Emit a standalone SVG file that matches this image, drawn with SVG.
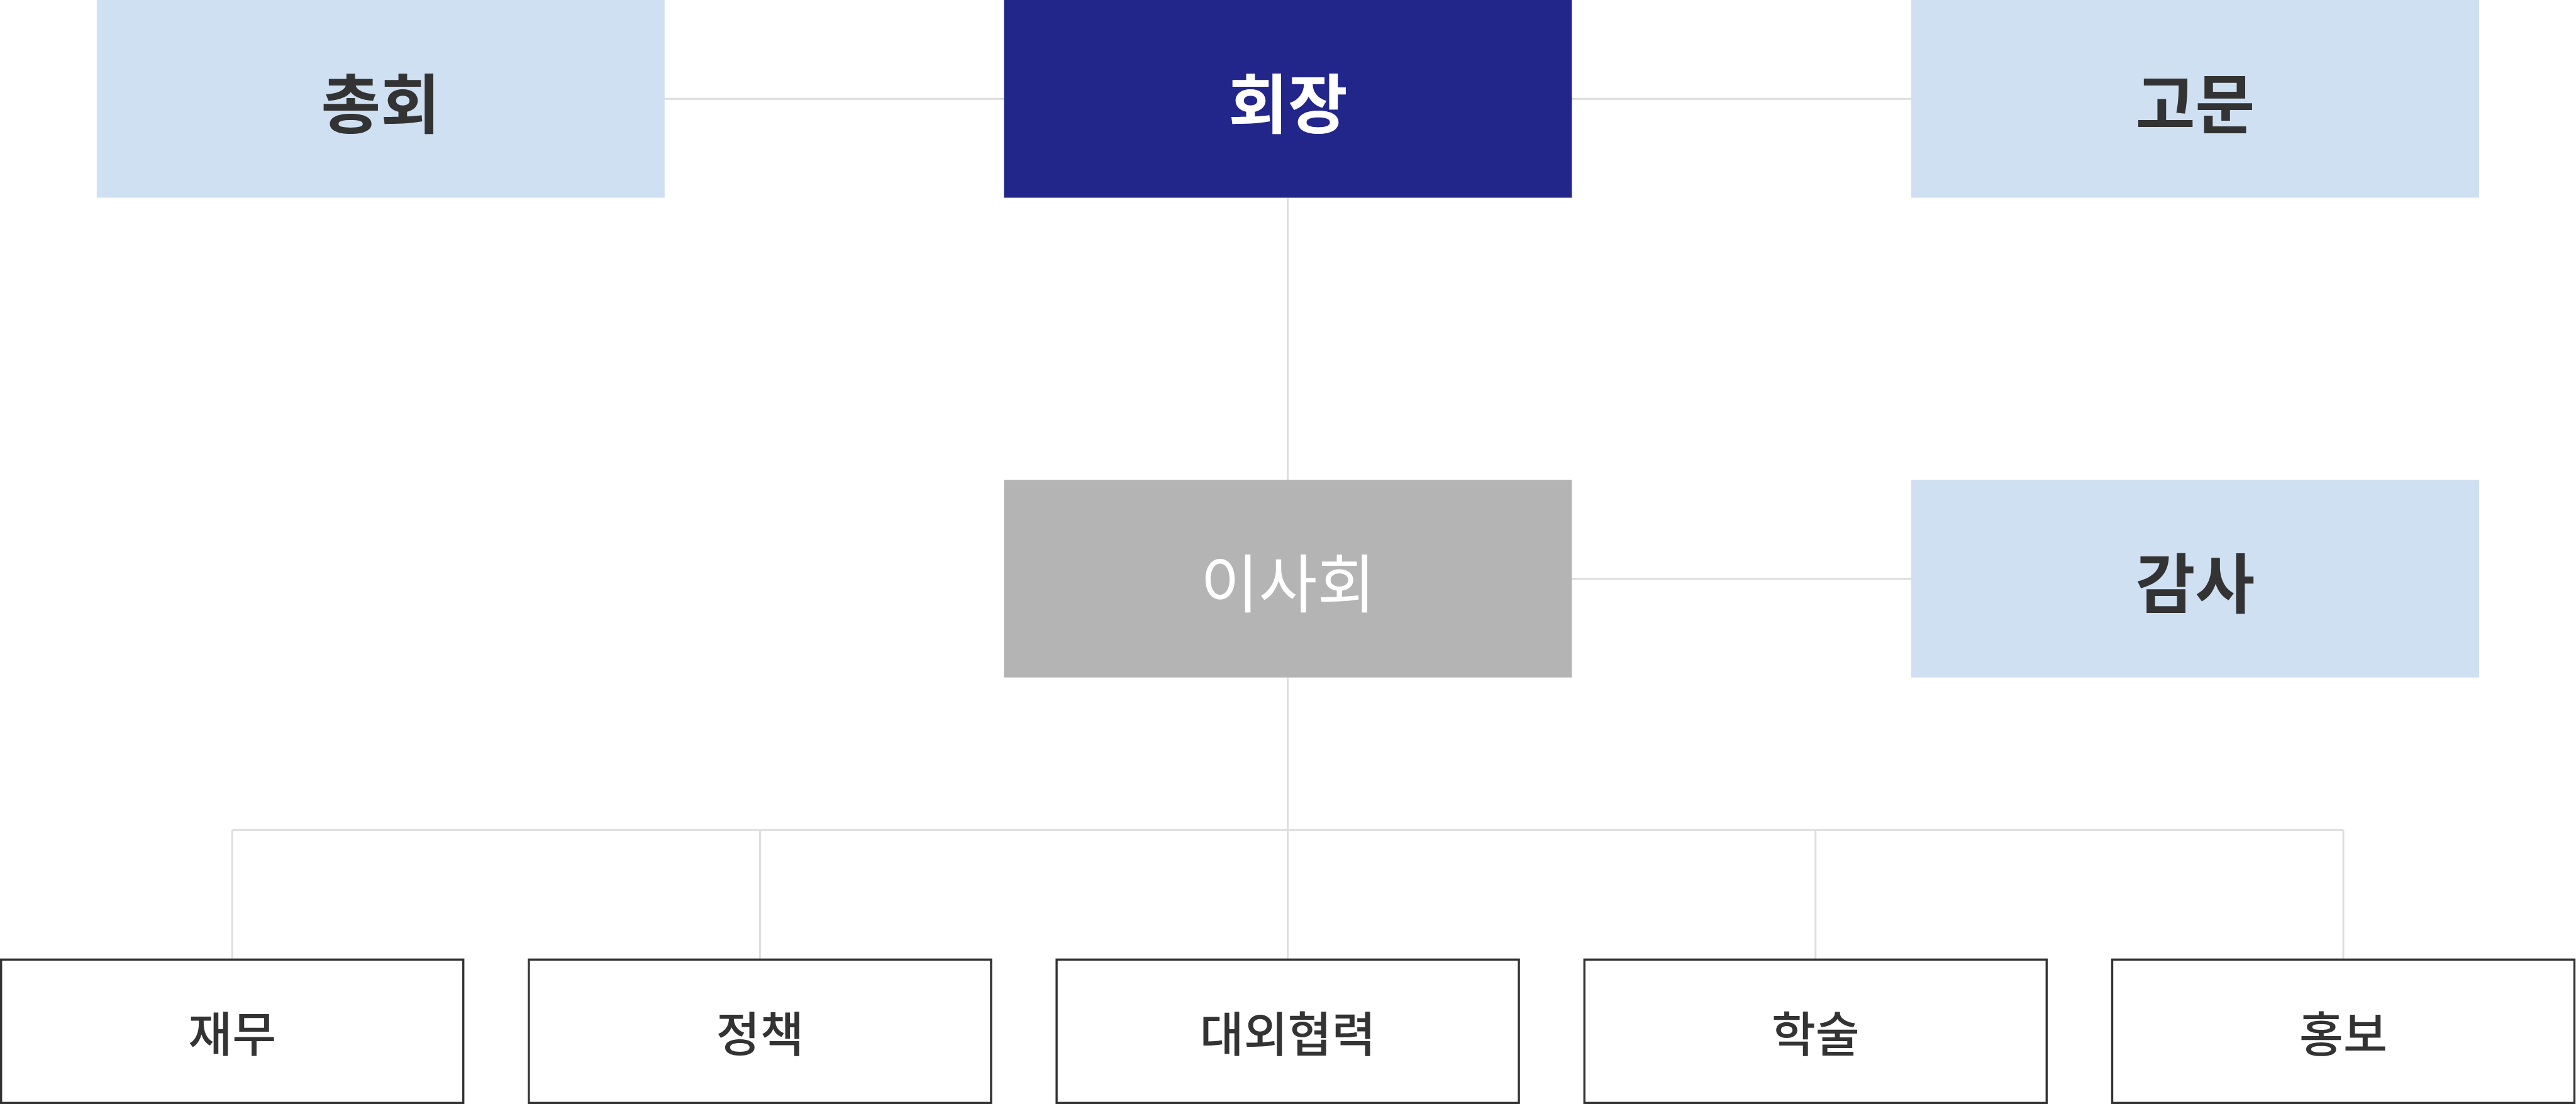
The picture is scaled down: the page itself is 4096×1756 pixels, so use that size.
<svg xmlns="http://www.w3.org/2000/svg" width="4096" height="1756" viewBox="0 0 4096 1756">
<style>
.bg{fill:#ffffff}
.blue{fill:#cfe0f2}
.navy{fill:#22268a}
.gray{fill:#b4b4b4}
.dept{fill:#ffffff;stroke:#333333;stroke-width:3.4}
.conn{stroke:#dddddd;stroke-width:3;fill:none}
.big{font-family:"Noto Sans CJK KR","Noto Sans",sans-serif;font-size:103px;font-weight:700;text-anchor:middle;dominant-baseline:central}
.mid{font-family:"Noto Sans CJK KR","Noto Sans",sans-serif;font-size:101px;font-weight:400;text-anchor:middle;dominant-baseline:central;fill:#ffffff}
.small{font-family:"Noto Sans CJK KR","Noto Sans",sans-serif;font-size:76px;font-weight:500;text-anchor:middle;dominant-baseline:central;fill:#333333}
.dark{fill:#333333}
.white{fill:#ffffff}
</style>
<rect class="bg" x="0" y="0" width="4096" height="1756"/>
<g id="connectors">
<line class="conn" x1="1056" y1="157.2" x2="1597" y2="157.2"/>
<line class="conn" x1="2499" y1="157.2" x2="3040" y2="157.2"/>
<line class="conn" x1="2047.6" y1="314.5" x2="2047.6" y2="763.2"/>
<line class="conn" x1="2499" y1="920.4" x2="3040" y2="920.4"/>
<line class="conn" x1="2047.6" y1="1077.6" x2="2047.6" y2="1525"/>
<line class="conn" x1="369.2" y1="1320.3" x2="3726" y2="1320.3"/>
<line class="conn" x1="369.2" y1="1320.3" x2="369.2" y2="1525"/>
<line class="conn" x1="1208.4" y1="1320.3" x2="1208.4" y2="1525"/>
<line class="conn" x1="2886.8" y1="1320.3" x2="2886.8" y2="1525"/>
<line class="conn" x1="3726" y1="1320.3" x2="3726" y2="1525"/>
</g>
<g id="node-chonghoe">
<rect class="blue" x="153.8" y="0" width="903" height="314.5"/>
<text class="big dark" x="605.3" y="159">총회</text>
</g>
<g id="node-hoejang">
<rect class="navy" x="1596.4" y="0" width="903" height="314.5"/>
<text class="big white" x="2048" y="159">회장</text>
</g>
<g id="node-gomun">
<rect class="blue" x="3039" y="0" width="903" height="314.5"/>
<text class="big dark" x="3490.5" y="159">고문</text>
</g>
<g id="node-isahoe">
<rect class="gray" x="1596.4" y="763.2" width="903" height="314.4"/>
<text class="mid" x="2048" y="922">이사회</text>
</g>
<g id="node-gamsa">
<rect class="blue" x="3039" y="763.2" width="903" height="314.4"/>
<text class="big dark" x="3490.5" y="922">감사</text>
</g>
<g id="node-jaemu">
<rect class="dept" x="1.7" y="1526.3" width="735" height="228"/>
<text class="small" x="369.2" y="1640">재무</text>
</g>
<g id="node-jeongchaek">
<rect class="dept" x="840.9" y="1526.3" width="735" height="228"/>
<text class="small" x="1208.4" y="1640">정책</text>
</g>
<g id="node-daeoe">
<rect class="dept" x="1680.1" y="1526.3" width="735" height="228"/>
<text class="small" x="2047.6" y="1640">대외협력</text>
</g>
<g id="node-haksul">
<rect class="dept" x="2519.3" y="1526.3" width="735" height="228"/>
<text class="small" x="2886.8" y="1640">학술</text>
</g>
<g id="node-hongbo">
<rect class="dept" x="3358.5" y="1526.3" width="735" height="228"/>
<text class="small" x="3726" y="1640">홍보</text>
</g>
</svg>
